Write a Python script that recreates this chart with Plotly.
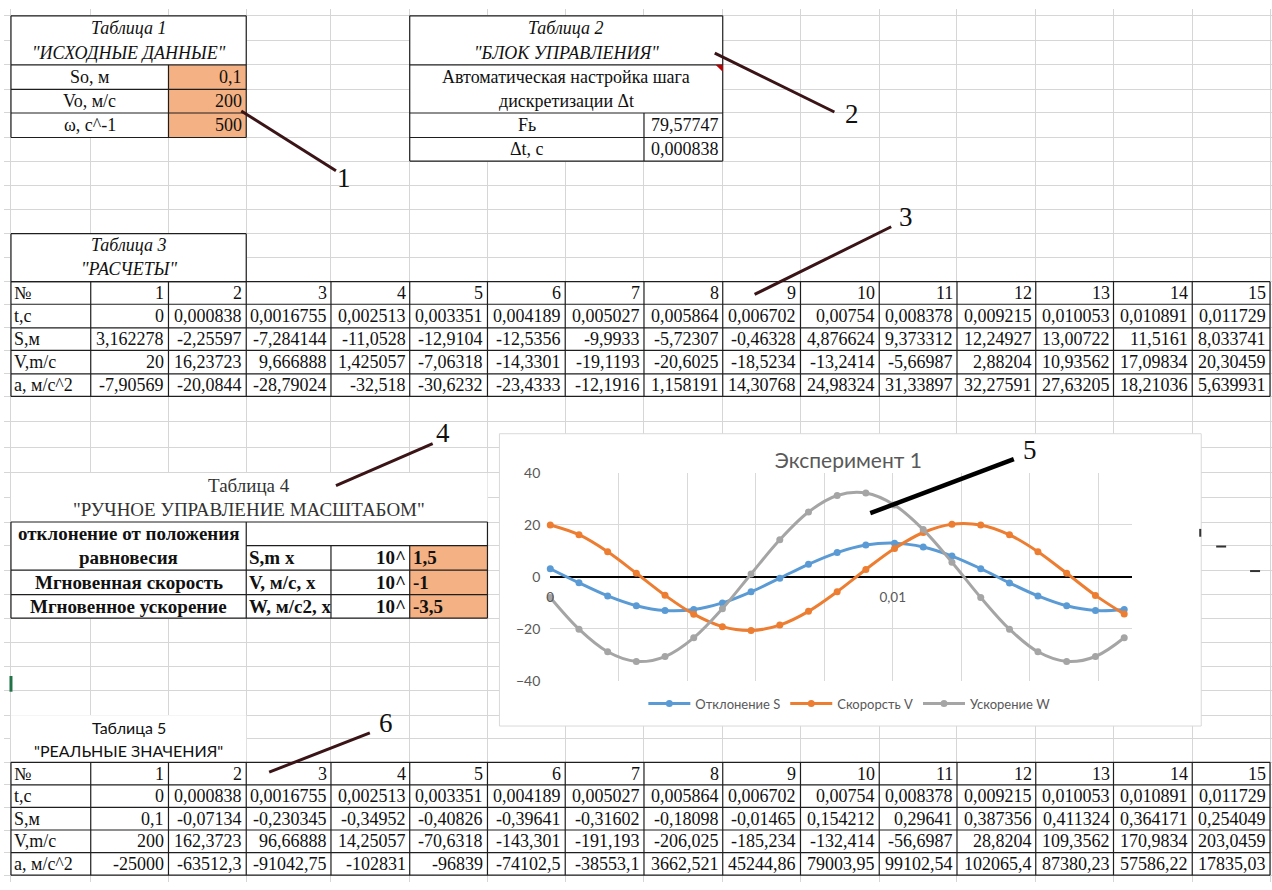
import plotly.graph_objects as go

# ---------------- data ----------------
nums = list(range(1, 16))
t_vals = [0, 0.000838, 0.0016755, 0.002513, 0.003351, 0.004189, 0.005027, 0.005864,
          0.006702, 0.00754, 0.008378, 0.009215, 0.010053, 0.010891, 0.011729]
S_calc = [3.162278, -2.25597, -7.284144, -11.0528, -12.9104, -12.5356, -9.9933, -5.72307,
          -0.46328, 4.876624, 9.373312, 12.24927, 13.00722, 11.5161, 8.033741]
V_calc = [20, 16.23723, 9.666888, 1.425057, -7.06318, -14.3301, -19.1193, -20.6025,
          -18.5234, -13.2414, -5.66987, 2.88204, 10.93562, 17.09834, 20.30459]
A_calc = [-7.90569, -20.0844, -28.79024, -32.518, -30.6232, -23.4333, -12.1916, 1.158191,
          14.30768, 24.98324, 31.33897, 32.27591, 27.63205, 18.21036, 5.639931]
S_real = [0.1, -0.07134, -0.230345, -0.34952, -0.40826, -0.39641, -0.31602, -0.18098,
          -0.01465, 0.154212, 0.29641, 0.387356, 0.411324, 0.364171, 0.254049]
V_real = [200, 162.3723, 96.66888, 14.25057, -70.6318, -143.301, -191.193, -206.025,
          -185.234, -132.414, -56.6987, 28.8204, 109.3562, 170.9834, 203.0459]
A_real = [-25000, -63512.3, -91042.75, -102831, -96839, -74102.5, -38553.1, 3662.521,
          45244.86, 79003.95, 99102.54, 102065.4, 87380.23, 57586.22, 17835.03]

# the chart continues past the table
t_more = [0.01257, 0.01341, 0.01424, 0.01508, 0.01592, 0.01676]
S_more = [3.2, -2.3, -7.3, -11.1, -12.9, -12.5]
V_more = [20.0, 16.2, 9.7, 1.4, -7.1, -14.3]
W_more = [-7.9, -20.1, -28.8, -32.5, -30.6, -23.4]

t1_labels = ["So, м", "Vo, м/с", "ω, с^-1"]
t1_values = [0.1, 200, 500]
t2_Fb = 79.57747
t2_dt = 0.000838
t4_labels = ["Мгновенная скорость", "Мгновенное ускорение"]
t4_units = ["S,m x", "V, м/с, x", "W, м/с2, x"]
t4_exps = [1.5, -1, -3.5]
row_labels = ["№", "t,c", "S,м", "V,m/c", "a, м/с^2"]
series_names = ["Отклонение S", "Скорорсть V", "Ускорение W"]
series_colors = ["#5B9BD5", "#ED7D31", "#A5A5A5"]
x_ticks = [0, 0.01]
x_ticktext = ["0", "0,01"]

# ---------------- sheet geometry ----------------
W, H = 1272, 890
col_edges = [7, 87, 165, 243, 328, 407, 485, 563, 642, 721, 799, 878, 956, 1035, 1113, 1192, 1270]
row_edges = [7, 32, 57, 82, 106, 131, 155, 180, 204, 229, 253, 278, 301, 325, 348, 372, 395,
             421, 447, 473, 498, 523, 547, 572, 597, 621, 646, 670, 695, 720, 744, 768, 791,
             814, 837, 860, 883, 907]
SERIF = "Liberation Serif, Times New Roman, DejaVu Serif, serif"
SANS = "Lato"
TXT = "#111111"
FS = 18       # regular cell text
FB = 19       # bold cell text


def fmt(v):
    s = repr(v) if isinstance(v, float) else str(v)
    return s.replace(".", ",")


white_x, white_y, orange_x, orange_y = [], [], [], []
bx, by = [], []


def rect_into(xs, ys, c0, c1, r0, r1):
    x0, x1 = col_edges[c0], col_edges[c1]
    y0, y1 = row_edges[r0], row_edges[r1]
    xs += [x0, x1, x1, x0, x0, None]
    ys += [y0, y0, y1, y1, y0, None]


def hline(r, c0, c1):
    bx.extend([col_edges[c0], col_edges[c1], None])
    by.extend([row_edges[r], row_edges[r], None])


def vline(c, r0, r1):
    bx.extend([col_edges[c], col_edges[c], None])
    by.extend([row_edges[r0], row_edges[r1], None])


def box(c0, c1, r0, r1):
    hline(r0, c0, c1); hline(r1, c0, c1); vline(c0, r0, r1); vline(c1, r0, r1)


# Table 1
rect_into(white_x, white_y, 0, 3, 0, 5)
rect_into(orange_x, orange_y, 2, 3, 2, 5)
box(0, 3, 0, 5)
for r in (2, 3, 4):
    hline(r, 0, 3)
vline(2, 2, 5)
# Table 2
rect_into(white_x, white_y, 5, 9, 0, 6)
box(5, 9, 0, 6)
for r in (2, 4, 5):
    hline(r, 5, 9)
vline(8, 4, 6)
# Table 3
rect_into(white_x, white_y, 0, 3, 9, 11)
box(0, 3, 9, 11)
rect_into(white_x, white_y, 0, 16, 11, 16)
for r in range(11, 17):
    hline(r, 0, 16)
for c in range(0, 17):
    vline(c, 11, 16)
# Table 4
rect_into(white_x, white_y, 0, 6, 19, 25)
rect_into(orange_x, orange_y, 5, 6, 22, 25)
box(0, 6, 21, 25)
vline(3, 21, 25)
hline(22, 3, 6)
hline(23, 0, 6)
hline(24, 0, 6)
vline(4, 22, 25)
vline(5, 22, 25)
# Table 5
rect_into(white_x, white_y, 0, 3, 29, 31)
rect_into(white_x, white_y, 0, 16, 31, 36)
for r in range(31, 37):
    hline(r, 0, 16)
for c in range(0, 17):
    vline(c, 31, 36)

fig = go.Figure()
fig.add_trace(go.Scatter(x=white_x, y=white_y, fill="toself", fillcolor="white", mode="lines",
                         line=dict(width=0, color="white"), hoverinfo="skip", showlegend=False))
fig.add_trace(go.Scatter(x=orange_x, y=orange_y, fill="toself", fillcolor="#F4B183", mode="lines",
                         line=dict(width=0, color="#F4B183"), hoverinfo="skip", showlegend=False))
fig.add_trace(go.Scatter(x=bx, y=by, mode="lines", line=dict(width=1.2, color="#1e1e1e"),
                         hoverinfo="skip", showlegend=False))
# comment indicator
fig.add_trace(go.Scatter(x=[col_edges[9] - 7, col_edges[9], col_edges[9], col_edges[9] - 7],
                         y=[row_edges[2], row_edges[2], row_edges[2] + 7, row_edges[2]],
                         fill="toself", fillcolor="#C00000", mode="lines", line=dict(width=0),
                         hoverinfo="skip", showlegend=False))
# chart area (white, light border)
cx0, cx1, cy0, cy1 = 497, 1201, 433, 731
fig.add_trace(go.Scatter(x=[cx0, cx1, cx1, cx0, cx0], y=[cy0, cy0, cy1, cy1, cy0], fill="toself",
                         fillcolor="white", mode="lines", line=dict(width=1, color="#d9d9d9"),
                         hoverinfo="skip", showlegend=False))

# ---------------- chart ----------------
t_all = t_vals + t_more
chart_series = [S_calc + S_more, V_calc + V_more, A_calc + W_more]
for name, ys, col in zip(series_names, chart_series, series_colors):
    fig.add_trace(go.Scatter(x=t_all, y=ys, name=name, mode="lines+markers",
                             line=dict(color=col, width=3, shape="spline", smoothing=1),
                             marker=dict(color=col, size=7), xaxis="x2", yaxis="y2",
                             cliponaxis=False))

# ---------------- text ----------------
ann = []


def txt(x, y, s, anchor="center", size=FS, family=SERIF, color=TXT):
    ann.append(dict(x=x, y=y, xref="x", yref="y", text=s, showarrow=False, xanchor=anchor,
                    yanchor="middle", font=dict(family=family, size=size, color=color)))


def cell(r, c0, c1, s, align="center", **kw):
    yc = (row_edges[r] + row_edges[r + 1]) / 2
    if align == "right":
        x = col_edges[c1] - 2
    elif align == "left":
        x = col_edges[c0] + 1
    else:
        x = (col_edges[c0] + col_edges[c1]) / 2
    txt(x, yc, s, align, **kw)


cell(0, 0, 3, "<i>Таблица 1</i>")
cell(1, 0, 3, "<i>\"ИСХОДНЫЕ ДАННЫЕ\"</i>")
for i, (lab, val) in enumerate(zip(t1_labels, t1_values)):
    cell(2 + i, 0, 2, lab)
    cell(2 + i, 2, 3, fmt(val), "right")

cell(0, 5, 9, "<i>Таблица 2</i>")
cell(1, 5, 9, "<i>\"БЛОК УПРАВЛЕНИЯ\"</i>")
cell(2, 5, 9, "Автоматическая настройка шага")
cell(3, 5, 9, "дискретизации Δt")
cell(4, 5, 8, "Fь")
cell(4, 8, 9, fmt(t2_Fb), "right")
cell(5, 5, 8, "Δt, с")
cell(5, 8, 9, fmt(t2_dt), "right")

cell(9, 0, 3, "<i>Таблица 3</i>")
cell(10, 0, 3, "<i>\"РАСЧЕТЫ\"</i>")
for k, row in enumerate([nums, t_vals, S_calc, V_calc, A_calc]):
    cell(11 + k, 0, 1, row_labels[k], "left")
    for j, v in enumerate(row):
        cell(11 + k, 1 + j, 2 + j, fmt(v), "right")

cell(19, 0, 6, "Таблица 4", color="#333333", size=19)
cell(20, 0, 6, "\"РУЧНОЕ УПРАВЛЕНИЕ МАСШТАБОМ\"", color="#333333", size=19)
cell(21, 0, 3, "<b>отклонение от положения</b>", size=FB)
cell(22, 0, 3, "<b>равновесия</b>", size=FB)
for i, lab in enumerate(t4_labels):
    cell(23 + i, 0, 3, "<b>" + lab + "</b>", size=FB)
for i, (u, e) in enumerate(zip(t4_units, t4_exps)):
    cell(22 + i, 3, 4, "<b>" + u + "</b>", "left", size=FB)
    cell(22 + i, 4, 5, "<b>10^</b>", "right", size=FB)
    cell(22 + i, 5, 6, "<b>" + fmt(e) + "</b>", "left", size=FB)

cell(29, 0, 3, "Таблица 5", family=SANS, size=16)
cell(30, 0, 3, "\"РЕАЛЬНЫЕ ЗНАЧЕНИЯ\"", family=SANS, size=16)
for k, row in enumerate([nums, t_vals, S_real, V_real, A_real]):
    cell(31 + k, 0, 1, row_labels[k], "left")
    for j, v in enumerate(row):
        cell(31 + k, 1 + j, 2 + j, fmt(v), "right")

# callout numbers and leader lines
callouts = [("1", (238, 104), (333, 165), (341, 172)),
            ("2", (713, 45), (833, 105), (851, 107)),
            ("3", (753, 291), (890, 222), (905, 212)),
            ("4", (333, 486), (430, 443), (440, 432)),
            ("5", (869, 514), (1013, 459), (1029, 450)),
            ("6", (266, 778), (367, 738), (383, 728))]
shapes = []
for lab, p0, p1, pl in callouts:
    black = lab == "5"
    shapes.append(dict(type="line", xref="x", yref="y", x0=p0[0], y0=p0[1], x1=p1[0], y1=p1[1],
                       line=dict(color="#000000" if black else "#3a1416", width=4.5 if black else 3)))
    txt(pl[0], pl[1], lab, size=27, color="#111111")
# Excel row selection mark and small stray marks
shapes.append(dict(type="line", xref="x", yref="y", x0=7, y0=680, x1=7, y1=696,
                   line=dict(color="#217346", width=3)))
for (a, b, c, d) in [(1200, 530, 1200, 538), (1216, 548, 1226, 548), (1250, 573, 1260, 573)]:
    shapes.append(dict(type="line", xref="x", yref="y", x0=a, y0=b, x1=c, y1=d,
                       line=dict(color="#333333", width=2)))

# ---------------- layout ----------------
px0, px1, py_top, py_bot = 548, 1132, 473, 685
ydom = [1 - py_bot / H, 1 - py_top / H]
zero_pos = (ydom[0] + ydom[1]) / 2
CH = "#595959"
fig.update_layout(
    width=W, height=H, margin=dict(l=0, r=0, t=0, b=0),
    paper_bgcolor="white", plot_bgcolor="rgba(0,0,0,0)",
    xaxis=dict(domain=[0, 1], range=[0, W], tickmode="array", tickvals=col_edges, showgrid=True,
               gridcolor="#d6d6d6", gridwidth=1, showticklabels=False, zeroline=False,
               showline=False, ticks="", fixedrange=True),
    yaxis=dict(domain=[0, 1], range=[H, 0], tickmode="array", tickvals=row_edges, showgrid=True,
               gridcolor="#d6d6d6", gridwidth=1, showticklabels=False, zeroline=False,
               showline=False, ticks="", fixedrange=True),
    xaxis2=dict(domain=[px0 / W, px1 / W], range=[0, 0.017], anchor="free", position=zero_pos,
                tickmode="array", tickvals=x_ticks, ticktext=x_ticktext, showgrid=True,
                gridcolor="#d9d9d9", zeroline=False, showline=False, ticks="",
                ticklabelstandoff=11,
                minor=dict(tickmode="linear", tick0=0, dtick=0.002, showgrid=True,
                           gridcolor="#d9d9d9", ticks=""),
                tickfont=dict(family=SANS, size=13.5, color=CH)),
    yaxis2=dict(domain=ydom, range=[-40, 40], anchor="x2", tickmode="linear", tick0=-40, dtick=20,
                showgrid=True, gridcolor="#d9d9d9", zeroline=True, zerolinecolor="#000000",
                zerolinewidth=2, showline=False, ticks="", ticklabelstandoff=9,
                tickfont=dict(family=SANS, size=14, color=CH)),
    title=dict(text="Эксперимент 1", x=847 / W, xanchor="center", y=1 - 460 / H, yanchor="middle",
               xref="paper", yref="paper", font=dict(family=SANS, size=21, color=CH)),
    legend=dict(orientation="h", x=848 / W, xanchor="center", y=1 - 708 / H, yanchor="middle",
                font=dict(family=SANS, size=13, color=CH), bgcolor="rgba(0,0,0,0)",
                itemwidth=42, tracegroupgap=0),
    annotations=ann, shapes=shapes, showlegend=True,
)

fig.write_html("out.html")
